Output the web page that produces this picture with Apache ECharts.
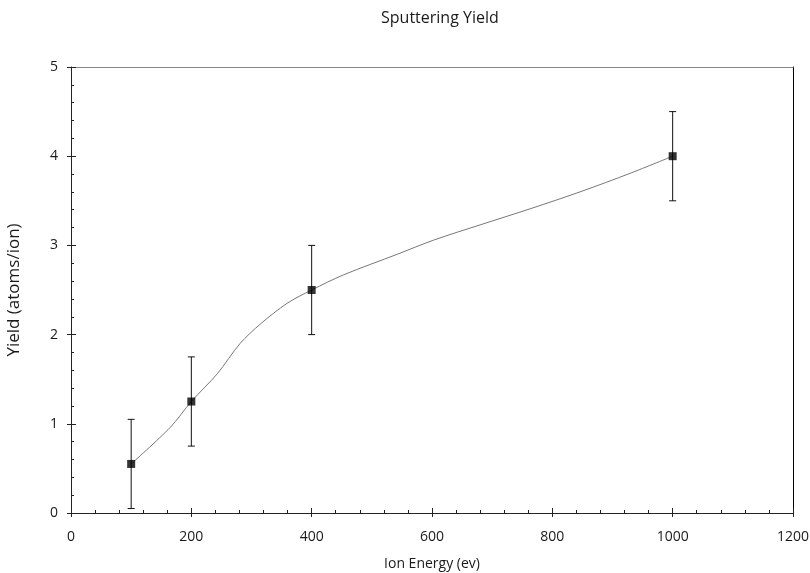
<!DOCTYPE html>
<html>
<head>
<meta charset="utf-8">
<script src="https://cdn.jsdelivr.net/npm/echarts@6/dist/echarts.min.js"></script>
<style>
  html, body { margin: 0; padding: 0; background: #fff; }
  #chart { width: 810px; height: 573px; }
</style>
</head>
<body>
<div id="chart"></div>
<script>
// measured points
const energies = [100, 200, 400, 1000];
const yields = [0.55, 1.25, 2.5, 4.0];
const errors = [0.5, 0.5, 0.5, 0.5];

// fit curve
const curveEnergy = [100, 165, 200, 243, 281, 315, 359, 400, 453, 542, 603, 680, 763, 846, 930, 1000];
const curveYield = [0.55, 0.96, 1.25, 1.56, 1.90, 2.12, 2.35, 2.50, 2.67, 2.90, 3.06, 3.23, 3.41, 3.60, 3.81, 4.00];

const font = 'Open Sans';
const axisColor = '#222';
const textColor = '#1a1a1a';

const pointData = energies.map((e, i) => [e, yields[i]]);
const errData = energies.map((e, i) => [e, yields[i] - errors[i], yields[i] + errors[i]]);
const curveData = curveEnergy.map((e, i) => [e, curveYield[i]]);

const chart = echarts.init(document.getElementById('chart'));
chart.setOption({
    backgroundColor: '#fff',
    animation: false,
    title: {
        text: 'Sputtering Yield',
        left: 376,
        top: 5,
        textStyle: { fontFamily: font, fontSize: 16, fontWeight: 'normal', color: textColor }
    },
    grid: { left: 71, right: 17, top: 67, bottom: 60, outerBoundsMode: 'none', containLabel: false },
    xAxis: [{
        type: 'value', min: 0, max: 1200, interval: 200,
        name: 'Ion Energy (ev)', nameLocation: 'middle', nameGap: 44,
        nameTextStyle: { fontFamily: font, fontSize: 14, color: textColor },
        axisLine: { onZero: false, lineStyle: { color: axisColor, width: 1 } },
        axisTick: { length: 4, lineStyle: { color: axisColor } },
        axisLabel: { fontFamily: font, fontSize: 14, color: textColor, margin: 17, formatter: v => String(v) },
        splitLine: { show: false }
    }, {
        // inner ticks + minor ticks on the bottom axis
        type: 'value', min: 0, max: 1200, interval: 200, position: 'bottom',
        axisLine: { show: false, onZero: false },
        axisTick: { inside: true, length: 5, lineStyle: { color: axisColor } },
        minorTick: { show: true, splitNumber: 5, length: 3, lineStyle: { color: axisColor } },
        axisLabel: { show: false },
        splitLine: { show: false }
    }, {
        // top frame
        type: 'value', min: 0, max: 1200, position: 'top',
        axisLine: { show: true, onZero: false, lineStyle: { color: '#888', width: 1 } },
        axisTick: { show: false }, axisLabel: { show: false }, splitLine: { show: false }
    }],
    yAxis: [{
        type: 'value', min: 0, max: 5, interval: 1,
        name: 'Yield (atoms/ion)', nameLocation: 'middle', nameGap: 48,
        nameTextStyle: { fontFamily: font, fontSize: 17, color: textColor },
        axisLine: { show: true, onZero: false, lineStyle: { color: axisColor, width: 1 } },
        axisTick: { show: true, length: 4, lineStyle: { color: axisColor } },
        axisLabel: { fontFamily: font, fontSize: 14, color: textColor, margin: 13 },
        splitLine: { show: false }
    }, {
        type: 'value', min: 0, max: 5, interval: 1, position: 'left',
        axisLine: { show: false, onZero: false },
        axisTick: { show: true, inside: true, length: 5, lineStyle: { color: axisColor } },
        minorTick: { show: true, splitNumber: 5, length: 3, lineStyle: { color: axisColor } },
        axisLabel: { show: false },
        splitLine: { show: false }
    }, {
        // right frame
        type: 'value', min: 0, max: 5, position: 'right',
        axisLine: { show: true, onZero: false, lineStyle: { color: '#000', width: 1 } },
        axisTick: { show: false }, axisLabel: { show: false }, splitLine: { show: false }
    }],
    series: [{
        type: 'line',
        data: curveData,
        showSymbol: false,
        smooth: 0.3,
        lineStyle: { color: '#777', width: 1 },
        z: 2
    }, {
        type: 'custom',
        data: errData,
        renderItem: (params, api) => {
            const x = api.value(0);
            const lo = api.coord([x, api.value(1)]);
            const hi = api.coord([x, api.value(2)]);
            const cap = 3.5;
            const style = { stroke: '#111', lineWidth: 1 };
            return {
                type: 'group',
                children: [
                    { type: 'line', shape: { x1: lo[0], y1: lo[1], x2: hi[0], y2: hi[1] }, style },
                    { type: 'line', shape: { x1: lo[0] - cap, y1: lo[1], x2: lo[0] + cap, y2: lo[1] }, style },
                    { type: 'line', shape: { x1: hi[0] - cap, y1: hi[1], x2: hi[0] + cap, y2: hi[1] }, style }
                ]
            };
        },
        z: 3
    }, {
        type: 'scatter',
        data: pointData,
        symbol: 'rect',
        symbolSize: 8,
        itemStyle: { color: '#000' },
        z: 4
    }]
});
</script>
</body>
</html>
